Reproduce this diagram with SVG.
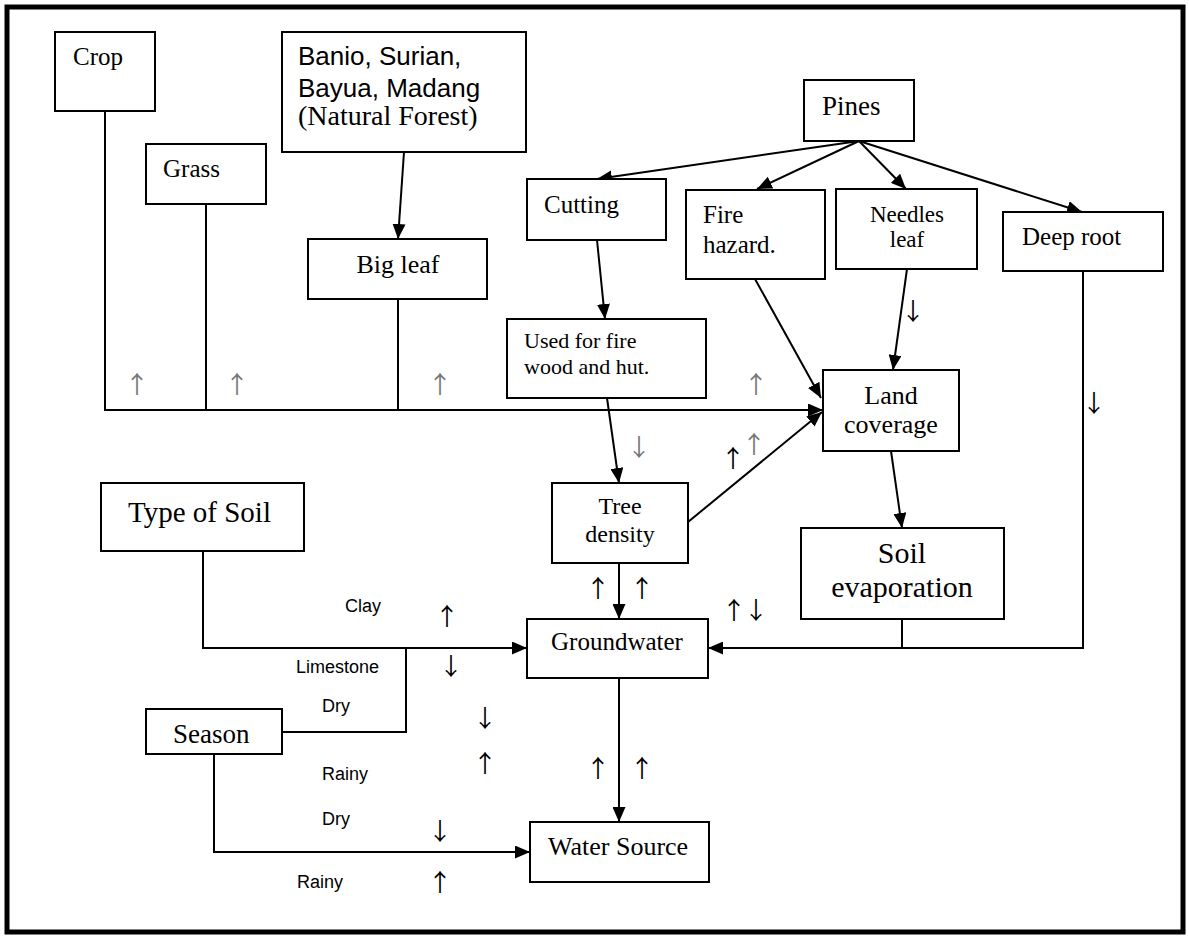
<svg xmlns="http://www.w3.org/2000/svg" width="1189" height="936" viewBox="0 0 1189 936">
<style>
.box{fill:#fff;stroke:#000;stroke-width:2}
.ln{fill:none;stroke:#000;stroke-width:2}
.s{font-family:"Liberation Serif","Times New Roman",serif;fill:#000}
.a{font-family:"Liberation Sans",Arial,sans-serif;fill:#000}
.m{text-anchor:middle}
.ar{font-family:"Noto Sans CJK SC","DejaVu Sans",sans-serif;font-size:24px;text-anchor:middle;fill:#000}
.th{fill:#777}
</style>
<defs>
<marker id="ah" markerWidth="15" markerHeight="13" refX="15" refY="6.5" orient="auto" markerUnits="userSpaceOnUse"><path d="M0,0 L15,6.5 L0,13 Z" fill="#000"/></marker>
</defs>
<rect x="7" y="7" width="1176" height="925" fill="#fff" stroke="#000" stroke-width="5"/>

<g id="connectors">
<path class="ln" d="M105,111 V410 H823" marker-end="url(#ah)"/>
<path class="ln" d="M206,204 V410"/>
<path class="ln" d="M398,299 V410"/>
<path class="ln" d="M404,152 L398,239" marker-end="url(#ah)"/>
<path class="ln" d="M859,141 L597,179" marker-end="url(#ah)"/>
<path class="ln" d="M859,141 L757,189" marker-end="url(#ah)"/>
<path class="ln" d="M859,141 L906,189" marker-end="url(#ah)"/>
<path class="ln" d="M859,141 L1082,212" marker-end="url(#ah)"/>
<path class="ln" d="M597,240 L605,319" marker-end="url(#ah)"/>
<path class="ln" d="M755,279 L821,398" marker-end="url(#ah)"/>
<path class="ln" d="M907,269 L893,370" marker-end="url(#ah)"/>
<path class="ln" d="M607,398 L619,483" marker-end="url(#ah)"/>
<path class="ln" d="M688,522 L822,412" marker-end="url(#ah)"/>
<path class="ln" d="M891,451 L902,528" marker-end="url(#ah)"/>
<path class="ln" d="M619,563 V619" marker-end="url(#ah)"/>
<path class="ln" d="M619,678 V822" marker-end="url(#ah)"/>
<path class="ln" d="M1083,271 V648 H708" marker-end="url(#ah)"/>
<path class="ln" d="M902,619 V648"/>
<path class="ln" d="M203,551 V648 H527" marker-end="url(#ah)"/>
<path class="ln" d="M282,732 H406 V648"/>
<path class="ln" d="M214,754 V852 H530" marker-end="url(#ah)"/>
</g>

<g id="crop"><rect class="box" x="55" y="32" width="100" height="79"/><text class="s" x="73" y="65" font-size="25">Crop</text></g>
<g id="grass"><rect class="box" x="146" y="144" width="120" height="60"/><text class="s" x="163" y="177" font-size="25">Grass</text></g>
<g id="natural-forest"><rect class="box" x="282" y="32" width="244" height="120"/>
<text class="a" x="298" y="65" font-size="26">Banio, Surian,</text>
<text class="a" x="298" y="97" font-size="26">Bayua, Madang</text>
<text class="s" x="298" y="125" font-size="28">(Natural Forest)</text></g>
<g id="big-leaf"><rect class="box" x="308" y="239" width="179" height="60"/><text class="s m" x="398" y="273" font-size="26">Big leaf</text></g>
<g id="pines"><rect class="box" x="804" y="80" width="110" height="61"/><text class="s" x="822" y="115" font-size="27">Pines</text></g>
<g id="cutting"><rect class="box" x="527" y="179" width="139" height="61"/><text class="s" x="544" y="213" font-size="25">Cutting</text></g>
<g id="fire-hazard"><rect class="box" x="686" y="190" width="139" height="89"/><text class="s" x="703" y="223" font-size="25">Fire</text><text class="s" x="703" y="253" font-size="25">hazard.</text></g>
<g id="needles-leaf"><rect class="box" x="836" y="189" width="141" height="80"/><text class="s m" x="907" y="222" font-size="23">Needles</text><text class="s m" x="907" y="247" font-size="23">leaf</text></g>
<g id="deep-root"><rect class="box" x="1003" y="212" width="160" height="59"/><text class="s" x="1022" y="245" font-size="25">Deep root</text></g>
<g id="used-for-fire"><rect class="box" x="507" y="319" width="199" height="79"/><text class="s" x="524" y="348" font-size="22">Used for fire</text><text class="s" x="524" y="374" font-size="22">wood and hut.</text></g>
<g id="land-coverage"><rect class="box" x="823" y="370" width="136" height="81"/><text class="s m" x="891" y="404" font-size="26">Land</text><text class="s m" x="891" y="433" font-size="26">coverage</text></g>
<g id="tree-density"><rect class="box" x="552" y="483" width="136" height="80"/><text class="s m" x="620" y="514" font-size="24">Tree</text><text class="s m" x="620" y="542" font-size="24">density</text></g>
<g id="soil-evaporation"><rect class="box" x="801" y="528" width="203" height="91"/><text class="s m" x="902" y="563" font-size="30">Soil</text><text class="s m" x="902" y="597" font-size="30">evaporation</text></g>
<g id="type-of-soil"><rect class="box" x="101" y="483" width="203" height="68"/><text class="s" x="128" y="522" font-size="29">Type of Soil</text></g>
<g id="groundwater"><rect class="box" x="527" y="619" width="181" height="59"/><text class="s m" x="617" y="650" font-size="25">Groundwater</text></g>
<g id="season"><rect class="box" x="146" y="709" width="136" height="45"/><text class="s" x="173" y="743" font-size="27">Season</text></g>
<g id="water-source"><rect class="box" x="530" y="822" width="179" height="60"/><text class="s" x="548" y="855" font-size="26">Water Source</text></g>

<g id="labels">
<text class="a" x="345" y="612" font-size="18">Clay</text>
<text class="a" x="296" y="673" font-size="18">Limestone</text>
<text class="a" x="322" y="712" font-size="18">Dry</text>
<text class="a" x="322" y="780" font-size="18">Rainy</text>
<text class="a" x="322" y="825" font-size="18">Dry</text>
<text class="a" x="297" y="888" font-size="18">Rainy</text>
</g>

<g id="trend-arrows">
<text class="ar th" x="137" y="393">↑</text>
<text class="ar th" x="237" y="393">↑</text>
<text class="ar th" x="440" y="393">↑</text>
<text class="ar th" x="756" y="393">↑</text>
<text class="ar th" x="754" y="453">↑</text>
<text class="ar th" x="639" y="456">↓</text>
<text class="ar" x="733" y="467">↑</text>
<text class="ar" x="913" y="320">↓</text>
<text class="ar" x="1094" y="412">↓</text>
<text class="ar" x="598" y="597">↑</text>
<text class="ar" x="642" y="597">↑</text>
<text class="ar" x="734" y="619">↑</text>
<text class="ar" x="756" y="619">↓</text>
<text class="ar" x="447" y="625">↑</text>
<text class="ar" x="451" y="675">↓</text>
<text class="ar" x="485" y="727">↓</text>
<text class="ar" x="485" y="772">↑</text>
<text class="ar" x="598" y="777">↑</text>
<text class="ar" x="642" y="777">↑</text>
<text class="ar" x="440" y="840">↓</text>
<text class="ar" x="440" y="891">↑</text>
</g>
</svg>
